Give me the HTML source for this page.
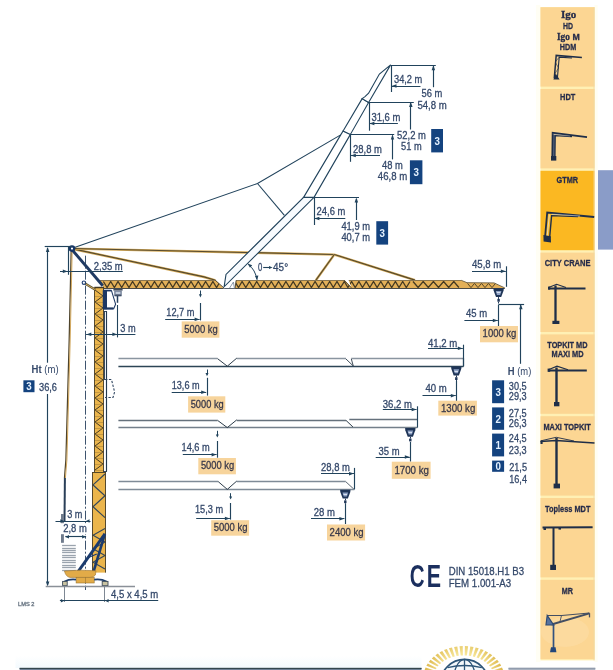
<!DOCTYPE html>
<html lang="fr"><head><meta charset="utf-8"><title>GTMR</title>
<style>html,body{margin:0;padding:0;background:#fff}svg{display:block;will-change:transform;opacity:0.9999}</style></head>
<body>
<svg width="613" height="670" viewBox="0 0 613 670" font-family="'Liberation Sans', sans-serif">
<g opacity="0.999">
<defs><linearGradient id="bg" x1="0" y1="0" x2="0" y2="1"><stop offset="0" stop-color="#ffffff"/><stop offset="1" stop-color="#f3fafe"/></linearGradient></defs>
<rect x="0" y="0" width="613.0" height="670.0" fill="#ffffff" />
<rect x="536" y="5" width="4.5" height="657.0" fill="#fffef4" />
<rect x="594.5" y="5" width="3.1" height="657.0" fill="#fffef2" />
<rect x="540.5" y="7.2" width="54.0" height="653.2" fill="#fff0b4" />
<rect x="540.5" y="7.2" width="54.0" height="79.4" fill="#fcd693" />
<rect x="540.5" y="89.0" width="54.0" height="79.4" fill="#fcd693" />
<rect x="540.5" y="170.79999999999998" width="54.0" height="79.4" fill="#fbb822" />
<rect x="540.5" y="252.6" width="54.0" height="79.4" fill="#fcd693" />
<rect x="540.5" y="334.4" width="54.0" height="79.4" fill="#fcd693" />
<rect x="540.5" y="416.2" width="54.0" height="79.4" fill="#fcd693" />
<rect x="540.5" y="498.0" width="54.0" height="79.4" fill="#fcd693" />
<rect x="540.5" y="579.8000000000001" width="54.0" height="79.4" fill="#fcd693" />
<rect x="593.6" y="7.2" width="0.9" height="653.2" fill="#f0d9a4" />
<rect x="598" y="170.2" width="15.0" height="79.4" fill="#8a9cc8" />
<text x="561" y="17.7" font-size="10" font-weight="bold" fill="#262c4a"  textLength="15.2" lengthAdjust="spacingAndGlyphs" stroke="#262c4a" stroke-width="0.3" font-family="'Liberation Serif', serif">Igo</text>
<text x="563" y="28.6" font-size="9.8" font-weight="bold" fill="#262c4a"  textLength="10.0" lengthAdjust="spacingAndGlyphs" stroke="#262c4a" stroke-width="0.3" >HD</text>
<text x="557" y="39.5" font-size="10" font-weight="bold" fill="#262c4a" stroke="#262c4a" stroke-width="0.3" textLength="22.8" lengthAdjust="spacingAndGlyphs"><tspan font-family="'Liberation Serif', serif">Igo</tspan> <tspan font-size="9.4">M</tspan></text>
<text x="559.8" y="49.8" font-size="9.8" font-weight="bold" fill="#262c4a"  textLength="16.4" lengthAdjust="spacingAndGlyphs" stroke="#262c4a" stroke-width="0.3" >HDM</text>
<polyline points="554.3,78.0 556.2,55.4 581.9,57.4" fill="none" stroke="#1f2e48" stroke-width="1.5" />
<polyline points="557.4,78.0 559.2,57.2 572.0,58.0" fill="none" stroke="#1f2e48" stroke-width="1.1" />
<polyline points="554.6,74.0 558.6,68.0 555.2,62.0 559.0,57.4" fill="none" stroke="#1f2e48" stroke-width="0.6" />
<polygon points="553.4,79.4 555.6,73.4 559.6,79.4" fill="#1f2e48" stroke="none" stroke-width="1" />
<text x="560.1" y="100.3" font-size="9.8" font-weight="bold" fill="#262c4a"  textLength="15.2" lengthAdjust="spacingAndGlyphs" stroke="#262c4a" stroke-width="0.3" >HDT</text>
<polygon points="552.2,160.0 552.6,133.5 555.2,135.6 554.9,160.0" fill="#56637c" stroke="none" stroke-width="1" />
<polyline points="552.2,160.0 552.6,132.8 587.0,137.2" fill="none" stroke="#1f2e48" stroke-width="1.7" />
<polyline points="554.9,160.0 555.2,135.6 572.0,136.6" fill="none" stroke="#1f2e48" stroke-width="1.3" />
<line x1="552.6" y1="134" x2="570" y2="136.2" stroke="#8c9bb0" stroke-width="0.5" />
<rect x="551" y="156" width="5.3" height="4.6" fill="#1f2e48" />
<text x="556.6" y="182.6" font-size="9.8" font-weight="bold" fill="#262c4a"  textLength="21.5" lengthAdjust="spacingAndGlyphs" stroke="#262c4a" stroke-width="0.3" >GTMR</text>
<polyline points="544.8,240.0 547.2,212.6 594.2,217.0" fill="none" stroke="#1f2e48" stroke-width="1.8" />
<polyline points="549.6,238.0 551.6,215.6 578.0,216.6" fill="none" stroke="#1f2e48" stroke-width="1.4" />
<polyline points="547.2,236.0 549.4,214.4" fill="none" stroke="#dfe6ee" stroke-width="0.7" />
<polyline points="551.6,214.2 580.0,216.0" fill="none" stroke="#dfe6ee" stroke-width="0.6" />
<polygon points="543.4,235.0 550.8,236.2 551.0,242.6 543.6,241.6" fill="#1f2e48" stroke="none" stroke-width="1" />
<text x="544.7" y="265.6" font-size="9.8" font-weight="bold" fill="#262c4a"  textLength="45.7" lengthAdjust="spacingAndGlyphs" stroke="#262c4a" stroke-width="0.3" >CITY CRANE</text>
<line x1="555.5" y1="285.5" x2="555.5" y2="322" stroke="#1f2e48" stroke-width="2.3" />
<line x1="548.3" y1="288.5" x2="585.5" y2="288.5" stroke="#1f2e48" stroke-width="2.0" />
<polyline points="548.6,287.6 556.6,284.3 566.0,287.6" fill="none" stroke="#1f2e48" stroke-width="1.1" />
<rect x="548" y="286.6" width="2.2" height="3.0" fill="#1f2e48" />
<rect x="552.4" y="320.8" width="7.0" height="3.2" fill="#1f2e48" />
<text x="547.3" y="347.6" font-size="9.8" font-weight="bold" fill="#262c4a"  textLength="40.2" lengthAdjust="spacingAndGlyphs" stroke="#262c4a" stroke-width="0.3" >TOPKIT MD</text>
<text x="551.5" y="356.6" font-size="9.8" font-weight="bold" fill="#262c4a"  textLength="32.1" lengthAdjust="spacingAndGlyphs" stroke="#262c4a" stroke-width="0.3" >MAXI MD</text>
<line x1="556.5" y1="367.5" x2="556.5" y2="404" stroke="#1f2e48" stroke-width="2.4" />
<line x1="548" y1="370.5" x2="586.8" y2="370.5" stroke="#1f2e48" stroke-width="1.9" />
<polyline points="548.4,369.8 557.0,366.2 568.0,369.8" fill="none" stroke="#1f2e48" stroke-width="1.2" />
<rect x="547.6" y="368.6" width="2.6" height="3.2" fill="#1f2e48" />
<rect x="554" y="402" width="5.4" height="4.3" fill="#1f2e48" />
<text x="543.4" y="429.9" font-size="9.8" font-weight="bold" fill="#262c4a"  textLength="47.5" lengthAdjust="spacingAndGlyphs" stroke="#262c4a" stroke-width="0.3" >MAXI TOPKIT</text>
<line x1="556.5" y1="438" x2="556.5" y2="488" stroke="#1f2e48" stroke-width="2.4" />
<polyline points="540.5,441.4 556.0,440.6 594.5,443.0" fill="none" stroke="#1f2e48" stroke-width="1.5" />
<polyline points="541.0,440.8 556.2,437.3 574.0,441.0" fill="none" stroke="#1f2e48" stroke-width="0.9" />
<rect x="540.5" y="440.6" width="2.1" height="3.4" fill="#1f2e48" />
<rect x="553.6" y="483.6" width="6.4" height="4.8" fill="#1f2e48" />
<text x="545.1" y="511.6" font-size="9.8" font-weight="bold" fill="#262c4a"  textLength="45.3" lengthAdjust="spacingAndGlyphs" stroke="#262c4a" stroke-width="0.3" >Topless MDT</text>
<line x1="553.5" y1="527.5" x2="553.5" y2="569" stroke="#1f2e48" stroke-width="2" />
<line x1="542.5" y1="527.6" x2="592.6" y2="527.2" stroke="#1f2e48" stroke-width="2" />
<rect x="550.2" y="564.8" width="5.8" height="5.2" fill="#1f2e48" />
<rect x="543.5" y="527.5" width="2.5" height="2.5" fill="#1f2e48" />
<rect x="558.5" y="527.5" width="2.5" height="2.1" fill="#1f2e48" />
<ellipse cx="565" cy="632" rx="24" ry="15" fill="#fde2b0" opacity="0.4"/>
<text x="561.8" y="593.9" font-size="9.8" font-weight="bold" fill="#262c4a"  textLength="11.2" lengthAdjust="spacingAndGlyphs" stroke="#262c4a" stroke-width="0.3" >MR</text>
<line x1="553.5" y1="624.5" x2="553.5" y2="651" stroke="#33527e" stroke-width="1.7" />
<polyline points="551.5,624.5 589.4,613.4" fill="none" stroke="#434e62" stroke-width="2.0" />
<polyline points="547.0,615.5 561.8,615.5 589.4,613.0" fill="none" stroke="#434e62" stroke-width="1.2" />
<polygon points="547.2,615.5 546.0,625.0 553.6,625.0" fill="#5673a0" stroke="#2f4a72" stroke-width="1.2" />
<line x1="561.5" y1="615.5" x2="560" y2="621.5" stroke="#434e62" stroke-width="0.9" />
<line x1="589.5" y1="613.2" x2="589.5" y2="617.4" stroke="#434e62" stroke-width="1.3" />
<polygon points="550.0,652.2 551.0,647.2 555.6,647.2 556.4,652.2" fill="#23467a" stroke="none" stroke-width="1" />
<line x1="118.4" y1="358.5" x2="217.6" y2="358.5" stroke="#8a95a0" stroke-width="1.6" />
<line x1="236.8" y1="358.5" x2="346" y2="358.5" stroke="#8a95a0" stroke-width="1.6" />
<line x1="351.2" y1="358.5" x2="463.4" y2="358.5" stroke="#8a95a0" stroke-width="1.6" />
<polyline points="345.9,358.9 353.3,366.0 351.3,358.9" fill="none" stroke="#2c3c4a" stroke-width="0.9" />
<line x1="118.4" y1="366.5" x2="463.4" y2="366.5" stroke="#2c4456" stroke-width="1.3" />
<polyline points="217.6,358.7 227.3,366.2 236.8,358.1" fill="none" stroke="#2c3c4a" stroke-width="1.0" />
<line x1="463.5" y1="358.2" x2="463.5" y2="366.6" stroke="#2c4456" stroke-width="1.2" />
<line x1="118.4" y1="420.5" x2="217.6" y2="420.5" stroke="#65717c" stroke-width="1.3" />
<line x1="236.8" y1="420.5" x2="346" y2="420.5" stroke="#65717c" stroke-width="1.3" />
<polyline points="346.0,420.4 353.6,427.6" fill="none" stroke="#2c3c4a" stroke-width="1.0" />
<line x1="349.3" y1="419.5" x2="417.4" y2="419.5" stroke="#65717c" stroke-width="1.3" />
<line x1="118.4" y1="427.5" x2="417.4" y2="427.5" stroke="#737f8a" stroke-width="1.3" />
<polyline points="217.6,420.4 227.3,427.6 236.8,419.8" fill="none" stroke="#2c3c4a" stroke-width="1.0" />
<line x1="118.4" y1="481.5" x2="218.2" y2="481.5" stroke="#7f8b97" stroke-width="1.3" />
<line x1="236.8" y1="481.5" x2="345.7" y2="481.5" stroke="#7f8b97" stroke-width="1.3" />
<polyline points="345.7,481.6 354.0,489.3" fill="none" stroke="#5a6672" stroke-width="1.0" />
<line x1="118.4" y1="489.5" x2="354.4" y2="489.5" stroke="#7f8b97" stroke-width="1.3" />
<polyline points="218.2,481.6 227.3,489.4 236.8,481.0" fill="none" stroke="#2c3c4a" stroke-width="1.0" />
<polygon points="451.1,366.6 461.5,366.6 461.3,368.8 458.9,375.4 453.7,375.4 451.3,368.8" fill="#1f3557" stroke="none" stroke-width="1" />
<polygon points="453.5,369.2 459.1,369.2 457.9,373.2 454.7,373.2" fill="#8fa2c6" stroke="none" stroke-width="1" />
<line x1="454.5" y1="371.5" x2="458.1" y2="371.5" stroke="#dfe6f2" stroke-width="0.9" />
<line x1="456.5" y1="375.40000000000003" x2="456.5" y2="377.20000000000005" stroke="#1f3557" stroke-width="1.0" />
<rect x="455.1" y="377.20000000000005" width="2.4" height="2.8" fill="#1f3557" />
<line x1="456.5" y1="380.0" x2="456.5" y2="381.5" stroke="#27405e" stroke-width="1.0" />
<polygon points="405.1,428.0 415.5,428.0 415.3,430.2 412.9,436.8 407.7,436.8 405.3,430.2" fill="#1f3557" stroke="none" stroke-width="1" />
<polygon points="407.5,430.6 413.1,430.6 411.9,434.6 408.7,434.6" fill="#8fa2c6" stroke="none" stroke-width="1" />
<line x1="408.5" y1="432.5" x2="412.1" y2="432.5" stroke="#dfe6f2" stroke-width="0.9" />
<line x1="410.5" y1="436.8" x2="410.5" y2="438.6" stroke="#1f3557" stroke-width="1.0" />
<rect x="409.1" y="438.6" width="2.4" height="2.8" fill="#1f3557" />
<line x1="410.5" y1="441.4" x2="410.5" y2="441.5" stroke="#27405e" stroke-width="1.0" />
<polygon points="340.1,489.8 350.5,489.8 350.3,492.0 347.9,498.6 342.7,498.6 340.3,492.0" fill="#1f3557" stroke="none" stroke-width="1" />
<polygon points="342.5,492.4 348.1,492.4 346.9,496.4 343.7,496.4" fill="#8fa2c6" stroke="none" stroke-width="1" />
<line x1="343.5" y1="494.5" x2="347.1" y2="494.5" stroke="#dfe6f2" stroke-width="0.9" />
<line x1="345.5" y1="498.6" x2="345.5" y2="500.40000000000003" stroke="#1f3557" stroke-width="1.0" />
<rect x="344.1" y="500.40000000000003" width="2.4" height="2.8" fill="#1f3557" />
<line x1="345.5" y1="503.2" x2="345.5" y2="504.3" stroke="#27405e" stroke-width="1.0" />
<text x="472" y="267.9" font-size="11.2" font-weight="normal" fill="#34486a" stroke="#34486a" stroke-width="0.3" textLength="29.3" lengthAdjust="spacingAndGlyphs" >45,8 m</text>
<line x1="472" y1="271.5" x2="505.8" y2="271.5" stroke="#21435c" stroke-width="1" />
<polygon points="505.8,271.2 500.8,269.4 500.8,272.9" fill="#21435c" stroke="none" stroke-width="1" />
<line x1="506.5" y1="266.3" x2="506.5" y2="286.8" stroke="#21435c" stroke-width="1.15" />
<text x="466" y="317.1" font-size="11.2" font-weight="normal" fill="#34486a" stroke="#34486a" stroke-width="0.3" textLength="21.1" lengthAdjust="spacingAndGlyphs" >45 m</text>
<line x1="464.4" y1="320.5" x2="497.8" y2="320.5" stroke="#21435c" stroke-width="1" />
<polygon points="497.8,320.5 492.8,318.8 492.8,322.2" fill="#21435c" stroke="none" stroke-width="1" />
<line x1="498.5" y1="305" x2="498.5" y2="326" stroke="#21435c" stroke-width="1.15" />
<rect x="480" y="326" width="38.0" height="16.3" fill="#f7d49c" />
<text x="482.6" y="336.6" font-size="11" font-weight="normal" fill="#38384a" stroke="#38384a" stroke-width="0.3" textLength="33.8" lengthAdjust="spacingAndGlyphs" >1000 kg</text>
<line x1="498.4" y1="304.5" x2="524.1" y2="304.5" stroke="#21435c" stroke-width="1.15" />
<line x1="520.5" y1="304.5" x2="520.5" y2="363.8" stroke="#21435c" stroke-width="1.15" />
<polygon points="520.9,304.2 519.1,309.2 522.6,309.2" fill="#21435c" stroke="none" stroke-width="1" />
<text x="428" y="347.1" font-size="11.2" font-weight="normal" fill="#34486a" stroke="#34486a" stroke-width="0.3" textLength="29.3" lengthAdjust="spacingAndGlyphs" >41,2 m</text>
<line x1="428" y1="348.5" x2="462.8" y2="348.5" stroke="#21435c" stroke-width="1" />
<polygon points="462.8,348.4 457.8,346.6 457.8,350.1" fill="#21435c" stroke="none" stroke-width="1" />
<line x1="463.5" y1="344.7" x2="463.5" y2="366.2" stroke="#21435c" stroke-width="1.15" />
<text x="425.5" y="392.3" font-size="11.2" font-weight="normal" fill="#34486a" stroke="#34486a" stroke-width="0.3" textLength="21.3" lengthAdjust="spacingAndGlyphs" >40 m</text>
<line x1="422.5" y1="395.5" x2="455.8" y2="395.5" stroke="#21435c" stroke-width="1" />
<polygon points="455.8,395.6 450.8,393.9 450.8,397.4" fill="#21435c" stroke="none" stroke-width="1" />
<line x1="456.5" y1="381" x2="456.5" y2="401" stroke="#21435c" stroke-width="1.15" />
<rect x="438.3" y="400.7" width="38.6" height="14.9" fill="#f7d49c" />
<text x="440.90000000000003" y="412.2" font-size="11" font-weight="normal" fill="#38384a" stroke="#38384a" stroke-width="0.3" textLength="34.4" lengthAdjust="spacingAndGlyphs" >1300 kg</text>
<text x="382.8" y="407.5" font-size="11.2" font-weight="normal" fill="#34486a" stroke="#34486a" stroke-width="0.3" textLength="29.2" lengthAdjust="spacingAndGlyphs" >36,2 m</text>
<line x1="382.8" y1="409.5" x2="416.6" y2="409.5" stroke="#21435c" stroke-width="1" />
<polygon points="416.6,409.5 411.6,407.8 411.6,411.2" fill="#21435c" stroke="none" stroke-width="1" />
<line x1="417.5" y1="406.3" x2="417.5" y2="427.6" stroke="#21435c" stroke-width="1.15" />
<text x="378.6" y="454.5" font-size="11.2" font-weight="normal" fill="#34486a" stroke="#34486a" stroke-width="0.3" textLength="21.0" lengthAdjust="spacingAndGlyphs" >35 m</text>
<line x1="375.7" y1="457.5" x2="409.8" y2="457.5" stroke="#21435c" stroke-width="1" />
<polygon points="409.8,457.0 404.8,455.2 404.8,458.8" fill="#21435c" stroke="none" stroke-width="1" />
<line x1="410.5" y1="442" x2="410.5" y2="461.6" stroke="#21435c" stroke-width="1.15" />
<rect x="391.8" y="461.7" width="38.8" height="17.1" fill="#f7d49c" />
<text x="394.40000000000003" y="473.6" font-size="11" font-weight="normal" fill="#38384a" stroke="#38384a" stroke-width="0.3" textLength="34.6" lengthAdjust="spacingAndGlyphs" >1700 kg</text>
<text x="321" y="470.5" font-size="11.2" font-weight="normal" fill="#34486a" stroke="#34486a" stroke-width="0.3" textLength="28.9" lengthAdjust="spacingAndGlyphs" >28,8 m</text>
<line x1="321" y1="473.5" x2="354" y2="473.5" stroke="#21435c" stroke-width="1" />
<polygon points="354.0,473.6 349.0,471.9 349.0,475.4" fill="#21435c" stroke="none" stroke-width="1" />
<line x1="354.5" y1="467.9" x2="354.5" y2="489.4" stroke="#21435c" stroke-width="1.15" />
<text x="313.7" y="515.8" font-size="11.2" font-weight="normal" fill="#34486a" stroke="#34486a" stroke-width="0.3" textLength="21.2" lengthAdjust="spacingAndGlyphs" >28 m</text>
<line x1="311" y1="518.5" x2="344.4" y2="518.5" stroke="#21435c" stroke-width="1" />
<polygon points="344.4,518.8 339.4,517.0 339.4,520.5" fill="#21435c" stroke="none" stroke-width="1" />
<line x1="345.5" y1="504" x2="345.5" y2="524" stroke="#21435c" stroke-width="1.15" />
<rect x="327" y="524.5" width="38.1" height="16.0" fill="#f7d49c" />
<text x="329.6" y="535.5" font-size="11" font-weight="normal" fill="#38384a" stroke="#38384a" stroke-width="0.3" textLength="33.9" lengthAdjust="spacingAndGlyphs" >2400 kg</text>
<line x1="200.5" y1="290.5" x2="200.5" y2="295.9" stroke="#21435c" stroke-width="1.0" />
<polygon points="200.4,297.4 198.9,294.2 201.9,294.2" fill="#21435c" stroke="none" stroke-width="1" />
<line x1="200.5" y1="303" x2="200.5" y2="320.4" stroke="#21435c" stroke-width="1.15" />
<text x="166.3" y="316.1" font-size="11.2" font-weight="normal" fill="#34486a" stroke="#34486a" stroke-width="0.3" textLength="28.2" lengthAdjust="spacingAndGlyphs" >12,7 m</text>
<line x1="165.2" y1="319.5" x2="199.6" y2="319.5" stroke="#21435c" stroke-width="1" />
<polygon points="199.6,319.4 194.6,317.6 194.6,321.1" fill="#21435c" stroke="none" stroke-width="1" />
<rect x="181.7" y="321.4" width="37.7" height="16.3" fill="#f7d49c" />
<text x="184.29999999999998" y="332.5" font-size="11" font-weight="normal" fill="#38384a" stroke="#38384a" stroke-width="0.3" textLength="33.5" lengthAdjust="spacingAndGlyphs" >5000 kg</text>
<line x1="207.5" y1="369.5" x2="207.5" y2="374.7" stroke="#21435c" stroke-width="1.0" />
<polygon points="207.0,376.2 205.5,373.0 208.5,373.0" fill="#21435c" stroke="none" stroke-width="1" />
<line x1="207.5" y1="377.8" x2="207.5" y2="395.6" stroke="#21435c" stroke-width="1.15" />
<text x="171.7" y="388.7" font-size="11.2" font-weight="normal" fill="#34486a" stroke="#34486a" stroke-width="0.3" textLength="27.9" lengthAdjust="spacingAndGlyphs" >13,6 m</text>
<line x1="171.7" y1="392.5" x2="206.2" y2="392.5" stroke="#21435c" stroke-width="1" />
<polygon points="206.2,392.3 201.2,390.6 201.2,394.1" fill="#21435c" stroke="none" stroke-width="1" />
<rect x="188.1" y="396.3" width="37.2" height="16.3" fill="#f7d49c" />
<text x="190.7" y="408.1" font-size="11" font-weight="normal" fill="#38384a" stroke="#38384a" stroke-width="0.3" textLength="33.0" lengthAdjust="spacingAndGlyphs" >5000 kg</text>
<line x1="217.5" y1="430.8" x2="217.5" y2="436.1" stroke="#21435c" stroke-width="1.0" />
<polygon points="217.3,437.6 215.8,434.4 218.8,434.4" fill="#21435c" stroke="none" stroke-width="1" />
<line x1="217.5" y1="441" x2="217.5" y2="457.7" stroke="#21435c" stroke-width="1.15" />
<text x="181.5" y="450.7" font-size="11.2" font-weight="normal" fill="#34486a" stroke="#34486a" stroke-width="0.3" textLength="28.3" lengthAdjust="spacingAndGlyphs" >14,6 m</text>
<line x1="182.8" y1="454.5" x2="216.6" y2="454.5" stroke="#21435c" stroke-width="1" />
<polygon points="216.6,454.6 211.6,452.9 211.6,456.4" fill="#21435c" stroke="none" stroke-width="1" />
<rect x="198.3" y="458" width="37.6" height="16.3" fill="#f7d49c" />
<text x="200.9" y="469.4" font-size="11" font-weight="normal" fill="#38384a" stroke="#38384a" stroke-width="0.3" textLength="33.4" lengthAdjust="spacingAndGlyphs" >5000 kg</text>
<line x1="230.5" y1="493.2" x2="230.5" y2="498.1" stroke="#21435c" stroke-width="1.0" />
<polygon points="230.6,499.6 229.1,496.4 232.1,496.4" fill="#21435c" stroke="none" stroke-width="1" />
<line x1="230.5" y1="503" x2="230.5" y2="519.6" stroke="#21435c" stroke-width="1.15" />
<text x="194.9" y="512.5" font-size="11.2" font-weight="normal" fill="#34486a" stroke="#34486a" stroke-width="0.3" textLength="28.2" lengthAdjust="spacingAndGlyphs" >15,3 m</text>
<line x1="196.2" y1="518.5" x2="229.9" y2="518.5" stroke="#21435c" stroke-width="1" />
<polygon points="229.9,518.5 224.9,516.8 224.9,520.2" fill="#21435c" stroke="none" stroke-width="1" />
<rect x="211.2" y="520.2" width="37.9" height="15.5" fill="#f7d49c" />
<text x="213.79999999999998" y="530.8" font-size="11" font-weight="normal" fill="#38384a" stroke="#38384a" stroke-width="0.3" textLength="33.7" lengthAdjust="spacingAndGlyphs" >5000 kg</text>
<text x="507.8" y="374.8" font-size="11.6" fill="#34486a" textLength="23.5" lengthAdjust="spacingAndGlyphs"><tspan font-weight="bold">H</tspan> (m)</text>
<rect x="492.1" y="380.3" width="12.0" height="22.9" fill="#14437f" />
<text transform="translate(498.1,395.85) scale(0.85,1)" text-anchor="middle" font-size="11.5" font-weight="bold" fill="#e4f1ff" >3</text>
<text x="508.8" y="389.8" font-size="11.2" font-weight="normal" fill="#34486a" stroke="#34486a" stroke-width="0.3" textLength="17.8" lengthAdjust="spacingAndGlyphs" >30,5</text>
<text x="508.8" y="400.3" font-size="11.2" font-weight="normal" fill="#34486a" stroke="#34486a" stroke-width="0.3" textLength="17.8" lengthAdjust="spacingAndGlyphs" >29,3</text>
<rect x="492.1" y="407.4" width="12.0" height="22.4" fill="#14437f" />
<text transform="translate(498.1,422.70000000000005) scale(0.85,1)" text-anchor="middle" font-size="11.5" font-weight="bold" fill="#e4f1ff" >2</text>
<text x="508.8" y="416.7" font-size="11.2" font-weight="normal" fill="#34486a" stroke="#34486a" stroke-width="0.3" textLength="17.8" lengthAdjust="spacingAndGlyphs" >27,5</text>
<text x="508.8" y="427.2" font-size="11.2" font-weight="normal" fill="#34486a" stroke="#34486a" stroke-width="0.3" textLength="17.8" lengthAdjust="spacingAndGlyphs" >26,3</text>
<rect x="492.1" y="433.6" width="12.0" height="22.8" fill="#14437f" />
<text transform="translate(498.1,449.1) scale(0.85,1)" text-anchor="middle" font-size="11.5" font-weight="bold" fill="#e4f1ff" >1</text>
<text x="508.8" y="442.1" font-size="11.2" font-weight="normal" fill="#34486a" stroke="#34486a" stroke-width="0.3" textLength="17.8" lengthAdjust="spacingAndGlyphs" >24,5</text>
<text x="508.8" y="453.5" font-size="11.2" font-weight="normal" fill="#34486a" stroke="#34486a" stroke-width="0.3" textLength="17.8" lengthAdjust="spacingAndGlyphs" >23,3</text>
<rect x="492.1" y="460.6" width="12.0" height="11.2" fill="#14437f" />
<text transform="translate(498.1,470.30000000000007) scale(0.85,1)" text-anchor="middle" font-size="11.5" font-weight="bold" fill="#e4f1ff" >0</text>
<text x="509.2" y="470.7" font-size="11.2" font-weight="normal" fill="#34486a" stroke="#34486a" stroke-width="0.3" textLength="17.8" lengthAdjust="spacingAndGlyphs" >21,5</text>
<text x="509.2" y="482.9" font-size="11.2" font-weight="normal" fill="#34486a" stroke="#34486a" stroke-width="0.3" textLength="17.8" lengthAdjust="spacingAndGlyphs" >16,4</text>
<text transform="translate(409.7,586.7) scale(0.67,1)" font-size="30.6" font-weight="bold" fill="#1b2f5e">C</text>
<text transform="translate(426.7,586.7) scale(0.70,1)" font-size="30.6" font-weight="bold" fill="#1b2f5e">E</text>
<text x="448.7" y="574.8" font-size="11.8" font-weight="normal" fill="#34486a" stroke="#34486a" stroke-width="0.3" textLength="75.4" lengthAdjust="spacingAndGlyphs" >DIN 15018.H1 B3</text>
<text x="448.7" y="587.0" font-size="11.8" font-weight="normal" fill="#34486a" stroke="#34486a" stroke-width="0.3" textLength="62.4" lengthAdjust="spacingAndGlyphs" >FEM 1.001-A3</text>
<polyline points="73.0,249.0 204.0,277.0 215.5,280.3" fill="none" stroke="#d9ae5c" stroke-width="2.4" />
<polyline points="73.0,248.9 204.0,276.9 215.5,280.2" fill="none" stroke="#554a2e" stroke-width="1.15" />
<polyline points="73.0,248.6 334.3,254.6 415.0,280.2" fill="none" stroke="#d9ae5c" stroke-width="2.4" />
<polyline points="73.0,248.5 334.3,254.5 415.0,280.1" fill="none" stroke="#554a2e" stroke-width="1.15" />
<polyline points="334.3,254.6 315.9,280.2" fill="none" stroke="#d9ae5c" stroke-width="2.4" />
<polyline points="334.3,254.5 315.9,280.1" fill="none" stroke="#554a2e" stroke-width="1.15" />
<polygon points="99.6,280.3 461.2,280.3 467.0,282.7 494.0,282.9 504.8,287.9 504.8,288.2 104.2,288.2" fill="#e3b058" stroke="none" stroke-width="1" />
<polyline points="103.4,281.5 107.1,287.5 110.7,281.5 114.4,287.5 118.0,281.5 121.7,287.5 125.3,281.5 129.0,287.5 132.6,281.5 136.3,287.5 139.9,281.5 143.6,287.5 147.2,281.5 150.9,287.5 154.5,281.5 158.2,287.5 161.8,281.5 165.5,287.5 169.1,281.5 172.8,287.5 176.4,281.5 180.1,287.5 183.7,281.5 187.4,287.5 191.0,281.5 194.7,287.5 198.3,281.5 202.0,287.5 205.6,281.5 209.3,287.5 212.9,281.5 216.6,287.5 220.2,281.5 223.9,287.5 227.5,281.5 231.2,287.5 234.8,281.5 238.5,287.5 242.1,281.5 245.8,287.5 249.4,281.5 253.1,287.5 256.7,281.5 260.4,287.5 264.0,281.5 267.7,287.5 271.3,281.5 275.0,287.5 278.6,281.5 282.3,287.5 285.9,281.5 289.6,287.5 293.2,281.5 296.8,287.5 300.5,281.5 304.1,287.5 307.8,281.5 311.4,287.5 315.1,281.5 318.7,287.5 322.4,281.5 326.0,287.5 329.7,281.5 333.3,287.5 337.0,281.5 340.6,287.5 344.3,281.5 347.9,287.5 351.6,281.5 355.2,287.5 358.9,281.5 362.5,287.5 366.2,281.5 369.8,287.5 373.5,281.5 377.1,287.5 380.8,281.5 384.4,287.5 388.1,281.5 391.7,287.5 395.4,281.5 399.0,287.5 402.7,281.5 406.3,287.5 410.0,281.5" fill="none" stroke="#453a22" stroke-width="1.3" />
<polyline points="413.0,281.5 418.1,287.5 423.2,281.5 428.3,287.5 433.4,281.5 438.5,287.5 443.6,281.5 448.7,287.5 453.8,281.5 458.9,287.5" fill="none" stroke="#453a22" stroke-width="1.3" />
<polyline points="467.5,283.4 471.0,287.6 474.5,283.4 478.0,287.6 481.5,283.4 485.0,287.6 488.5,283.4 492.0,287.6 495.5,283.4" fill="none" stroke="#453a22" stroke-width="0.9" />
<line x1="99.6" y1="280.5" x2="461.2" y2="280.5" stroke="#8a7650" stroke-width="1.0" />
<line x1="104" y1="288.5" x2="504.8" y2="288.5" stroke="#4a4a45" stroke-width="1.2" />
<polyline points="461.2,280.3 467.0,282.7 494.0,282.9 504.8,287.9" fill="none" stroke="#6a5c40" stroke-width="0.9" />
<polygon points="215.3,279.7 236.2,279.7 235.0,288.9 224.2,288.9" fill="#ffffff" stroke="none" stroke-width="1" />
<polyline points="215.3,280.3 224.2,288.2" fill="none" stroke="#453a22" stroke-width="0.9" />
<polyline points="236.2,280.3 235.0,288.2" fill="none" stroke="#453a22" stroke-width="0.9" />
<polyline points="229.5,288.2 233.4,282.0 234.4,288.2" fill="none" stroke="#7d8da0" stroke-width="0.9" />
<line x1="224.2" y1="288.5" x2="235" y2="288.5" stroke="#5a6470" stroke-width="1.0" />
<polygon points="344.4,279.7 348.4,279.7 351.6,287.8" fill="#ffffff" stroke="none" stroke-width="1" />
<line x1="344.2" y1="280.3" x2="351.4" y2="287.8" stroke="#453a22" stroke-width="0.9" />
<polygon points="493.4,288.3 503.8,288.3 503.6,290.5 501.2,297.1 496.0,297.1 493.6,290.5" fill="#1f3557" stroke="none" stroke-width="1" />
<polygon points="495.8,290.9 501.4,290.9 500.2,294.9 497.0,294.9" fill="#8fa2c6" stroke="none" stroke-width="1" />
<line x1="496.8" y1="292.5" x2="500.40000000000003" y2="292.5" stroke="#dfe6f2" stroke-width="0.9" />
<line x1="498.5" y1="297.1" x2="498.5" y2="298.90000000000003" stroke="#1f3557" stroke-width="1.0" />
<rect x="497.40000000000003" y="298.90000000000003" width="2.4" height="2.8" fill="#1f3557" />
<line x1="498.5" y1="301.7" x2="498.5" y2="303.5" stroke="#27405e" stroke-width="1.0" />
<polygon points="224.1,286.8 226.0,274.4 303.6,197.4 314.0,197.4" fill="#f8fbfe" stroke="#21435c" stroke-width="1.1" />
<polygon points="303.6,197.4 340.7,134.9 343.1,131.0 350.4,134.4 314.0,197.4" fill="#ffffff" stroke="#21435c" stroke-width="1.1" />
<polygon points="343.1,131.0 362.2,98.6 368.6,102.5 350.4,134.4" fill="#ffffff" stroke="#21435c" stroke-width="1.1" />
<polygon points="362.2,98.6 365.0,96.6 368.6,93.2 379.4,74.1 390.6,64.9 368.6,102.5" fill="#ffffff" stroke="#21435c" stroke-width="1.1" />
<polyline points="73.0,248.0 257.5,183.5 340.7,134.9" fill="none" stroke="#21435c" stroke-width="1.1" />
<line x1="257.5" y1="183.5" x2="284.4" y2="215.3" stroke="#21435c" stroke-width="1.1" />
<path d="M248.3,264.3 Q255.5,270 256.9,279.6" fill="none" stroke="#21435c" stroke-width="1"/>
<polygon points="248.0,264.0 248.1,262.2 248.1,265.8" fill="#21435c" stroke="none" stroke-width="1" />
<polygon points="247.6,263.6 252.2,265.2 250.0,267.8" fill="#21435c" stroke="none" stroke-width="1" />
<polygon points="257.2,280.2 255.0,276.0 258.4,275.6" fill="#21435c" stroke="none" stroke-width="1" />
<text x="258.1" y="270.6" font-size="11.2" font-weight="normal" fill="#34486a" stroke="#34486a" stroke-width="0.3" textLength="4.3" lengthAdjust="spacingAndGlyphs" >0</text>
<text x="273.1" y="270.6" font-size="11.2" font-weight="normal" fill="#34486a" stroke="#34486a" stroke-width="0.3" textLength="15.0" lengthAdjust="spacingAndGlyphs" >45°</text>
<line x1="263.2" y1="267.5" x2="270" y2="267.5" stroke="#21435c" stroke-width="1.1" />
<polygon points="272.6,267.5 269.0,266.0 269.0,269.0" fill="#21435c" stroke="none" stroke-width="1" />
<line x1="390.5" y1="65.5" x2="435.8" y2="65.5" stroke="#21435c" stroke-width="1.15" />
<line x1="391.5" y1="65.2" x2="391.5" y2="92" stroke="#21435c" stroke-width="1.15" />
<text x="394" y="82.6" font-size="11.2" font-weight="normal" fill="#34486a" stroke="#34486a" stroke-width="0.3" textLength="28.3" lengthAdjust="spacingAndGlyphs" >34,2 m</text>
<line x1="391.5" y1="86.5" x2="420.5" y2="86.5" stroke="#21435c" stroke-width="1" />
<polygon points="391.5,86.0 396.5,84.2 396.5,87.8" fill="#21435c" stroke="none" stroke-width="1" />
<line x1="433.5" y1="87.2" x2="433.5" y2="66" stroke="#21435c" stroke-width="1.15" />
<polygon points="433.4,65.2 431.6,70.2 435.1,70.2" fill="#21435c" stroke="none" stroke-width="1" />
<text x="421.6" y="97.0" font-size="11.2" font-weight="normal" fill="#34486a" stroke="#34486a" stroke-width="0.3" textLength="20.8" lengthAdjust="spacingAndGlyphs" >56 m</text>
<text x="417.4" y="109.2" font-size="11.2" font-weight="normal" fill="#34486a" stroke="#34486a" stroke-width="0.3" textLength="29.4" lengthAdjust="spacingAndGlyphs" >54,8 m</text>
<line x1="368.5" y1="102.5" x2="413.8" y2="102.5" stroke="#21435c" stroke-width="1.15" />
<line x1="369.5" y1="102.1" x2="369.5" y2="130.7" stroke="#21435c" stroke-width="1.15" />
<text x="371.4" y="120.8" font-size="11.2" font-weight="normal" fill="#34486a" stroke="#34486a" stroke-width="0.3" textLength="28.9" lengthAdjust="spacingAndGlyphs" >31,6 m</text>
<line x1="369.4" y1="123.5" x2="397.9" y2="123.5" stroke="#21435c" stroke-width="1" />
<polygon points="369.4,123.5 374.4,121.8 374.4,125.2" fill="#21435c" stroke="none" stroke-width="1" />
<line x1="410.5" y1="129.5" x2="410.5" y2="103" stroke="#21435c" stroke-width="1.15" />
<polygon points="410.8,102.1 409.1,107.1 412.6,107.1" fill="#21435c" stroke="none" stroke-width="1" />
<text x="397.1" y="138.5" font-size="11.2" font-weight="normal" fill="#34486a" stroke="#34486a" stroke-width="0.3" textLength="28.9" lengthAdjust="spacingAndGlyphs" >52,2 m</text>
<text x="401" y="149.5" font-size="11.2" font-weight="normal" fill="#34486a" stroke="#34486a" stroke-width="0.3" textLength="20.6" lengthAdjust="spacingAndGlyphs" >51 m</text>
<rect x="431.2" y="129" width="11.8" height="23.4" fill="#14437f" />
<text transform="translate(437.1,144.79999999999998) scale(0.85,1)" text-anchor="middle" font-size="11.5" font-weight="bold" fill="#e4f1ff" >3</text>
<line x1="350.2" y1="134.5" x2="394.2" y2="134.5" stroke="#21435c" stroke-width="1.15" />
<line x1="350.5" y1="134.4" x2="350.5" y2="161.8" stroke="#21435c" stroke-width="1.15" />
<text x="353.1" y="152.5" font-size="11.2" font-weight="normal" fill="#34486a" stroke="#34486a" stroke-width="0.3" textLength="28.9" lengthAdjust="spacingAndGlyphs" >28,8 m</text>
<line x1="350.8" y1="155.5" x2="380" y2="155.5" stroke="#21435c" stroke-width="1" />
<polygon points="350.8,155.5 355.8,153.8 355.8,157.2" fill="#21435c" stroke="none" stroke-width="1" />
<line x1="392.5" y1="159.4" x2="392.5" y2="135.5" stroke="#21435c" stroke-width="1.15" />
<polygon points="392.5,134.4 390.8,139.4 394.2,139.4" fill="#21435c" stroke="none" stroke-width="1" />
<text x="382" y="169.4" font-size="11.2" font-weight="normal" fill="#34486a" stroke="#34486a" stroke-width="0.3" textLength="20.8" lengthAdjust="spacingAndGlyphs" >48 m</text>
<text x="377.8" y="180.1" font-size="11.2" font-weight="normal" fill="#34486a" stroke="#34486a" stroke-width="0.3" textLength="29.4" lengthAdjust="spacingAndGlyphs" >46,8 m</text>
<rect x="409.9" y="160.3" width="12.5" height="23.9" fill="#14437f" />
<text transform="translate(416.15,176.35) scale(0.85,1)" text-anchor="middle" font-size="11.5" font-weight="bold" fill="#e4f1ff" >3</text>
<line x1="304.4" y1="197.5" x2="359" y2="197.5" stroke="#21435c" stroke-width="1.15" />
<line x1="314.5" y1="197.5" x2="314.5" y2="225" stroke="#21435c" stroke-width="1.15" />
<text x="316.6" y="214.9" font-size="11.2" font-weight="normal" fill="#34486a" stroke="#34486a" stroke-width="0.3" textLength="28.7" lengthAdjust="spacingAndGlyphs" >24,6 m</text>
<line x1="314.4" y1="218.5" x2="345.3" y2="218.5" stroke="#21435c" stroke-width="1" />
<polygon points="314.4,218.5 319.4,216.8 319.4,220.2" fill="#21435c" stroke="none" stroke-width="1" />
<line x1="356.5" y1="220" x2="356.5" y2="199" stroke="#21435c" stroke-width="1.15" />
<polygon points="356.3,197.4 354.6,202.4 358.1,202.4" fill="#21435c" stroke="none" stroke-width="1" />
<text x="341.4" y="230.3" font-size="11.2" font-weight="normal" fill="#34486a" stroke="#34486a" stroke-width="0.3" textLength="28.6" lengthAdjust="spacingAndGlyphs" >41,9 m</text>
<text x="341.4" y="241" font-size="11.2" font-weight="normal" fill="#34486a" stroke="#34486a" stroke-width="0.3" textLength="28.6" lengthAdjust="spacingAndGlyphs" >40,7 m</text>
<rect x="376.3" y="221.2" width="11.8" height="23.4" fill="#14437f" />
<text transform="translate(382.20000000000005,236.99999999999997) scale(0.85,1)" text-anchor="middle" font-size="11.5" font-weight="bold" fill="#e4f1ff" >3</text>
<polyline points="71.2,250.0 69.2,340.0 65.9,460.0 64.5,478.0" fill="none" stroke="#4e442c" stroke-width="1.3" />
<polyline points="72.2,250.0 70.2,340.0 66.9,460.0 65.4,478.0" fill="none" stroke="#d2a85e" stroke-width="1.0" />
<line x1="64.9" y1="478" x2="64.5" y2="521" stroke="#2a3f58" stroke-width="2.0" />
<rect x="61" y="514" width="2.9" height="28.8" fill="#6f7b8c" />
<rect x="94.4" y="287.5" width="9.1" height="184.5" fill="#ebb54c" />
<polyline points="95.0,290.0 103.0,296.0 95.0,302.0 103.0,308.0 95.0,314.0 103.0,320.0 95.0,326.0 103.0,332.0 95.0,338.0 103.0,344.0 95.0,350.0 103.0,356.0 95.0,362.0 103.0,368.0 95.0,374.0 103.0,380.0 95.0,386.0 103.0,392.0 95.0,398.0 103.0,404.0 95.0,410.0 103.0,416.0 95.0,422.0 103.0,428.0 95.0,434.0 103.0,440.0 95.0,446.0 103.0,452.0 95.0,458.0 103.0,464.0 95.0,470.0" fill="none" stroke="#453a22" stroke-width="1.0" />
<line x1="94.6" y1="296.5" x2="103.4" y2="296.5" stroke="#9a7a3a" stroke-width="0.5" />
<line x1="94.6" y1="302.5" x2="103.4" y2="302.5" stroke="#9a7a3a" stroke-width="0.5" />
<line x1="94.6" y1="308.5" x2="103.4" y2="308.5" stroke="#9a7a3a" stroke-width="0.5" />
<line x1="94.6" y1="314.5" x2="103.4" y2="314.5" stroke="#9a7a3a" stroke-width="0.5" />
<line x1="94.6" y1="320.5" x2="103.4" y2="320.5" stroke="#9a7a3a" stroke-width="0.5" />
<line x1="94.6" y1="326.5" x2="103.4" y2="326.5" stroke="#9a7a3a" stroke-width="0.5" />
<line x1="94.6" y1="332.5" x2="103.4" y2="332.5" stroke="#9a7a3a" stroke-width="0.5" />
<line x1="94.6" y1="338.5" x2="103.4" y2="338.5" stroke="#9a7a3a" stroke-width="0.5" />
<line x1="94.6" y1="344.5" x2="103.4" y2="344.5" stroke="#9a7a3a" stroke-width="0.5" />
<line x1="94.6" y1="350.5" x2="103.4" y2="350.5" stroke="#9a7a3a" stroke-width="0.5" />
<line x1="94.6" y1="356.5" x2="103.4" y2="356.5" stroke="#9a7a3a" stroke-width="0.5" />
<line x1="94.6" y1="362.5" x2="103.4" y2="362.5" stroke="#9a7a3a" stroke-width="0.5" />
<line x1="94.6" y1="368.5" x2="103.4" y2="368.5" stroke="#9a7a3a" stroke-width="0.5" />
<line x1="94.6" y1="374.5" x2="103.4" y2="374.5" stroke="#9a7a3a" stroke-width="0.5" />
<line x1="94.6" y1="380.5" x2="103.4" y2="380.5" stroke="#9a7a3a" stroke-width="0.5" />
<line x1="94.6" y1="386.5" x2="103.4" y2="386.5" stroke="#9a7a3a" stroke-width="0.5" />
<line x1="94.6" y1="392.5" x2="103.4" y2="392.5" stroke="#9a7a3a" stroke-width="0.5" />
<line x1="94.6" y1="398.5" x2="103.4" y2="398.5" stroke="#9a7a3a" stroke-width="0.5" />
<line x1="94.6" y1="404.5" x2="103.4" y2="404.5" stroke="#9a7a3a" stroke-width="0.5" />
<line x1="94.6" y1="410.5" x2="103.4" y2="410.5" stroke="#9a7a3a" stroke-width="0.5" />
<line x1="94.6" y1="416.5" x2="103.4" y2="416.5" stroke="#9a7a3a" stroke-width="0.5" />
<line x1="94.6" y1="422.5" x2="103.4" y2="422.5" stroke="#9a7a3a" stroke-width="0.5" />
<line x1="94.6" y1="428.5" x2="103.4" y2="428.5" stroke="#9a7a3a" stroke-width="0.5" />
<line x1="94.6" y1="434.5" x2="103.4" y2="434.5" stroke="#9a7a3a" stroke-width="0.5" />
<line x1="94.6" y1="440.5" x2="103.4" y2="440.5" stroke="#9a7a3a" stroke-width="0.5" />
<line x1="94.6" y1="446.5" x2="103.4" y2="446.5" stroke="#9a7a3a" stroke-width="0.5" />
<line x1="94.6" y1="452.5" x2="103.4" y2="452.5" stroke="#9a7a3a" stroke-width="0.5" />
<line x1="94.6" y1="458.5" x2="103.4" y2="458.5" stroke="#9a7a3a" stroke-width="0.5" />
<line x1="94.6" y1="464.5" x2="103.4" y2="464.5" stroke="#9a7a3a" stroke-width="0.5" />
<line x1="94.6" y1="470.5" x2="103.4" y2="470.5" stroke="#9a7a3a" stroke-width="0.5" />
<line x1="94.5" y1="287.5" x2="94.5" y2="472" stroke="#453a22" stroke-width="0.9" />
<line x1="103.5" y1="287.5" x2="103.5" y2="472" stroke="#453a22" stroke-width="0.9" />
<line x1="94.4" y1="287.5" x2="104" y2="287.5" stroke="#453a22" stroke-width="1.5" />
<rect x="92.3" y="472" width="13.3" height="100.6" fill="#ebb54c" />
<polyline points="105.0,474.0 93.0,484.9 105.0,495.8 93.0,506.7 105.0,517.6" fill="none" stroke="#33475a" stroke-width="1.2" />
<polyline points="105.0,528.5 93.0,535.2 105.0,542.0 93.0,548.8 105.0,555.5 93.0,562.2 105.0,569.0" fill="none" stroke="#33475a" stroke-width="1.1" />
<line x1="92.5" y1="472" x2="92.5" y2="572.6" stroke="#453a22" stroke-width="0.9" />
<line x1="105.5" y1="472" x2="105.5" y2="572.6" stroke="#453a22" stroke-width="0.9" />
<line x1="92.3" y1="472.5" x2="105.6" y2="472.5" stroke="#453a22" stroke-width="0.9" />
<line x1="106.5" y1="311.4" x2="106.5" y2="471.5" stroke="#22394f" stroke-width="1.15" />
<line x1="104.5" y1="311.4" x2="104.5" y2="380" stroke="#22394f" stroke-width="0.9" />
<line x1="103.8" y1="311.5" x2="107" y2="311.5" stroke="#22394f" stroke-width="0.9" />
<line x1="103.5" y1="471.5" x2="107" y2="471.5" stroke="#22394f" stroke-width="0.9" />
<path d="M105,379.5 H111.5 L114.6,392 L113,397.5 H105" fill="none" stroke="#2f4560" stroke-width="1.1" stroke-dasharray="2.4 1.5"/>
<line x1="72.3" y1="250" x2="102.8" y2="285.8" stroke="#1f3a63" stroke-width="2.9" />
<circle cx="72" cy="248.6" r="2.2" fill="#ffffff" stroke="#153465" stroke-width="2.2"/>
<line x1="85" y1="283.6" x2="95.4" y2="289.8" stroke="#5a5030" stroke-width="2.3" />
<line x1="85.4" y1="283.8" x2="95.4" y2="289.8" stroke="#d8b060" stroke-width="0.9" />
<circle cx="83.9" cy="282.7" r="1.7" fill="#ffffff" stroke="#26457a" stroke-width="1.2"/>
<polygon points="103.3,290.7 111.5,290.7 115.6,304.2 113.7,308.8 103.3,308.8" fill="#ffffff" stroke="#1f3a63" stroke-width="1.1" />
<rect x="103" y="290.2" width="4.0" height="19.0" fill="#1c3763" />
<line x1="103" y1="290.5" x2="111.5" y2="290.5" stroke="#1c3763" stroke-width="1.5" />
<rect x="103" y="307.4" width="10.4" height="2.1" fill="#1c3763" />
<rect x="113.4" y="288.4" width="9.2" height="2.2" fill="#3f4b5c" />
<rect x="114.2" y="290.6" width="7.6" height="5.6" fill="#76839a" />
<rect x="115.6" y="291.8" width="4.8" height="2.2" fill="#c4cedc" />
<rect x="114.8" y="294.8" width="6.4" height="1.4" fill="#435066" />
<line x1="117.5" y1="296" x2="117.5" y2="302.8" stroke="#27405e" stroke-width="1.5" />
<line x1="117.5" y1="305" x2="117.5" y2="337.4" stroke="#21435c" stroke-width="1.1" />
<line x1="44.7" y1="246.5" x2="72" y2="246.5" stroke="#21435c" stroke-width="1.15" />
<line x1="47.5" y1="248" x2="47.5" y2="362.7" stroke="#21435c" stroke-width="1.15" />
<line x1="47.5" y1="394" x2="47.5" y2="585" stroke="#21435c" stroke-width="1.15" />
<polygon points="47.6,246.9 45.9,251.9 49.4,251.9" fill="#21435c" stroke="none" stroke-width="1" />
<polygon points="47.6,586.4 45.9,581.4 49.4,581.4" fill="#21435c" stroke="none" stroke-width="1" />
<line x1="68.5" y1="246.7" x2="68.5" y2="274.8" stroke="#21435c" stroke-width="1.15" />
<text x="31.6" y="372.5" font-size="11.6" fill="#34486a" textLength="27" lengthAdjust="spacingAndGlyphs"><tspan font-weight="bold">Ht</tspan> (m)</text>
<rect x="23.4" y="380.3" width="11.1" height="11.9" fill="#14437f" />
<text transform="translate(28.95,390.35) scale(0.85,1)" text-anchor="middle" font-size="11.5" font-weight="bold" fill="#e4f1ff" >3</text>
<text x="39" y="391.2" font-size="10.8" font-weight="normal" fill="#34486a" stroke="#34486a" stroke-width="0.3" textLength="18.0" lengthAdjust="spacingAndGlyphs" >36,6</text>
<line x1="60" y1="271.5" x2="122.8" y2="271.5" stroke="#21435c" stroke-width="1.15" />
<polygon points="67.8,271.4 62.8,269.6 62.8,273.1" fill="#21435c" stroke="none" stroke-width="1" />
<text x="93.8" y="270.1" font-size="11" font-weight="normal" fill="#34486a" stroke="#34486a" stroke-width="0.3" textLength="28.9" lengthAdjust="spacingAndGlyphs" >2,35 m</text>
<line x1="85.5" y1="255.7" x2="85.5" y2="590" stroke="#27405e" stroke-width="0.9" stroke-dasharray="9 2 2 2"/>
<line x1="86.1" y1="334.5" x2="135.4" y2="334.5" stroke="#21435c" stroke-width="1.15" />
<polygon points="86.3,334.4 91.3,332.6 91.3,336.1" fill="#21435c" stroke="none" stroke-width="1" />
<polygon points="117.4,334.4 112.4,332.6 112.4,336.1" fill="#21435c" stroke="none" stroke-width="1" />
<text x="120.3" y="332" font-size="11.2" font-weight="normal" fill="#34486a" stroke="#34486a" stroke-width="0.3" textLength="15.4" lengthAdjust="spacingAndGlyphs" >3 m</text>
<line x1="55.5" y1="521.5" x2="90.5" y2="521.5" stroke="#21435c" stroke-width="1.15" />
<polygon points="63.8,521.0 60.3,519.2 60.3,522.8" fill="#21435c" stroke="none" stroke-width="1" />
<polygon points="86.0,521.0 89.5,519.2 89.5,522.8" fill="#21435c" stroke="none" stroke-width="1" />
<rect x="66.5" y="509.5" width="16.5" height="10.1" fill="#ffffff" />
<text x="67.2" y="518.1" font-size="11.2" font-weight="normal" fill="#34486a" stroke="#34486a" stroke-width="0.3" textLength="15.2" lengthAdjust="spacingAndGlyphs" >3 m</text>
<rect x="60" y="523.2" width="27.4" height="11.0" fill="#ffffff" />
<text x="63.2" y="531.7" font-size="11.2" font-weight="normal" fill="#34486a" stroke="#34486a" stroke-width="0.3" textLength="23.6" lengthAdjust="spacingAndGlyphs" >2,8 m</text>
<line x1="65.3" y1="536.5" x2="86.1" y2="536.5" stroke="#21435c" stroke-width="1.15" />
<polygon points="65.5,536.9 69.0,535.1 69.0,538.6" fill="#21435c" stroke="none" stroke-width="1" />
<polygon points="85.6,536.9 82.1,535.1 82.1,538.6" fill="#21435c" stroke="none" stroke-width="1" />
<line x1="62.1" y1="545.5" x2="75.8" y2="545.5" stroke="#9aa3ad" stroke-width="1.3" />
<line x1="62.1" y1="548.5" x2="75.8" y2="548.5" stroke="#9aa3ad" stroke-width="1.3" />
<line x1="62.1" y1="550.5" x2="75.8" y2="550.5" stroke="#9aa3ad" stroke-width="1.3" />
<line x1="62.1" y1="552.5" x2="75.8" y2="552.5" stroke="#9aa3ad" stroke-width="1.3" />
<line x1="62.1" y1="555.5" x2="75.8" y2="555.5" stroke="#9aa3ad" stroke-width="1.3" />
<line x1="62.1" y1="557.5" x2="75.8" y2="557.5" stroke="#9aa3ad" stroke-width="1.3" />
<line x1="62.1" y1="560.5" x2="75.8" y2="560.5" stroke="#9aa3ad" stroke-width="1.3" />
<line x1="62.1" y1="562.5" x2="75.8" y2="562.5" stroke="#9aa3ad" stroke-width="1.3" />
<line x1="62.1" y1="565.5" x2="75.8" y2="565.5" stroke="#9aa3ad" stroke-width="1.3" />
<line x1="62.1" y1="567.5" x2="75.8" y2="567.5" stroke="#9aa3ad" stroke-width="1.3" />
<line x1="62.1" y1="570.5" x2="75.8" y2="570.5" stroke="#9aa3ad" stroke-width="1.3" />
<line x1="104.9" y1="533.8" x2="78.1" y2="571.6" stroke="#1b3b6e" stroke-width="2.9" />
<line x1="104.9" y1="533.8" x2="93.4" y2="572.2" stroke="#1b3b6e" stroke-width="2.6" />
<line x1="86.8" y1="558.3" x2="96.8" y2="554" stroke="#1b3b6e" stroke-width="1.2" />
<path d="M64.4,571 Q80,569.4 96,570.8 L95.4,575 Q94,577.4 90,577.4 L70,577.4 Q66,577 64.4,571 Z" fill="#e2ab48" stroke="#9a7430" stroke-width="0.6"/>
<rect x="76.1" y="577.4" width="18.1" height="5.6" fill="#e2ab48" stroke="#9a7430" stroke-width="0.6"/>
<line x1="85.5" y1="577.4" x2="85.5" y2="583" stroke="#9a7430" stroke-width="0.6" />
<path d="M64,581.6 Q70,578.6 76,579.6 M94.2,579.6 Q101,578.6 107,581.6" fill="none" stroke="#1f3f6e" stroke-width="1.6"/>
<rect x="62.6" y="581.4" width="4.6" height="4.2" fill="#c9c3a2" stroke="#3c4a5a" stroke-width="0.9"/>
<rect x="102.2" y="581.4" width="5.8" height="4.2" fill="#c9c3a2" stroke="#3c4a5a" stroke-width="0.9"/>
<line x1="45.7" y1="586.5" x2="135" y2="586.5" stroke="#8a9098" stroke-width="1.5" />
<line x1="64.5" y1="586.7" x2="64.5" y2="602" stroke="#6f7b88" stroke-width="0.9" />
<line x1="104.5" y1="586.7" x2="104.5" y2="602" stroke="#6f7b88" stroke-width="0.9" />
<line x1="59.9" y1="600.5" x2="158.2" y2="600.5" stroke="#21435c" stroke-width="1.15" />
<polygon points="64.4,600.7 60.9,599.0 60.9,602.5" fill="#21435c" stroke="none" stroke-width="1" />
<polygon points="105.1,600.7 108.6,599.0 108.6,602.5" fill="#21435c" stroke="none" stroke-width="1" />
<text x="111" y="598.4" font-size="11" font-weight="normal" fill="#34486a" stroke="#34486a" stroke-width="0.3" textLength="47.2" lengthAdjust="spacingAndGlyphs" >4,5 x 4,5 m</text>
<text x="18" y="605.5" font-size="4.6" font-weight="normal" fill="#6f7b88" stroke="#6f7b88" stroke-width="0.3" textLength="16.4" lengthAdjust="spacingAndGlyphs" >LMS 2</text>
<rect x="15.5" y="656" width="406" height="12" fill="url(#bg)"/>
<rect x="19.6" y="668" width="401.9" height="2.0" fill="#6d8096" />
<rect x="19.6" y="667.8" width="401.9" height="1.2" fill="#33474f" />
<rect x="508.5" y="667.8" width="86.8" height="2.2" fill="#a9b1bf" />
<rect x="508.5" y="667.8" width="86.8" height="1.0" fill="#8c97a8" />
<defs><radialGradient id="ray" gradientUnits="userSpaceOnUse" cx="463.8" cy="678" r="41"><stop offset="0.55" stop-color="#f9ea9e"/><stop offset="1" stop-color="#dbb548"/></radialGradient></defs>
<polygon points="434.3,672.2 424.6,669.9 425.6,667.4 435.0,670.6" fill="url(#ray)" stroke="none" stroke-width="1" />
<polygon points="435.6,669.3 426.4,665.8 427.7,663.5 436.6,667.9" fill="url(#ray)" stroke="none" stroke-width="1" />
<polygon points="437.5,666.6 428.8,662.0 430.5,659.8 438.6,665.3" fill="url(#ray)" stroke="none" stroke-width="1" />
<polygon points="439.8,664.2 431.8,658.4 433.9,656.4 441.2,662.9" fill="url(#ray)" stroke="none" stroke-width="1" />
<polygon points="442.5,661.9 435.4,655.2 437.8,653.5 444.1,660.8" fill="url(#ray)" stroke="none" stroke-width="1" />
<polygon points="445.6,659.9 439.5,652.4 442.2,650.9 447.4,659.0" fill="url(#ray)" stroke="none" stroke-width="1" />
<polygon points="449.0,658.3 444.0,650.1 446.9,648.9 451.0,657.6" fill="url(#ray)" stroke="none" stroke-width="1" />
<polygon points="452.7,657.0 448.9,648.2 452.0,647.4 454.8,656.5" fill="url(#ray)" stroke="none" stroke-width="1" />
<polygon points="456.6,656.1 454.1,646.9 457.3,646.4 458.8,655.8" fill="url(#ray)" stroke="none" stroke-width="1" />
<polygon points="460.7,655.6 459.5,646.2 462.7,646.0 462.9,655.5" fill="url(#ray)" stroke="none" stroke-width="1" />
<polygon points="464.7,655.5 464.9,646.0 468.1,646.2 466.9,655.6" fill="url(#ray)" stroke="none" stroke-width="1" />
<polygon points="468.8,655.8 470.3,646.4 473.5,646.9 471.0,656.1" fill="url(#ray)" stroke="none" stroke-width="1" />
<polygon points="472.8,656.5 475.6,647.4 478.7,648.2 474.9,657.0" fill="url(#ray)" stroke="none" stroke-width="1" />
<polygon points="476.6,657.6 480.7,648.9 483.6,650.1 478.6,658.3" fill="url(#ray)" stroke="none" stroke-width="1" />
<polygon points="480.2,659.0 485.4,650.9 488.1,652.4 482.0,659.9" fill="url(#ray)" stroke="none" stroke-width="1" />
<polygon points="483.5,660.8 489.8,653.5 492.2,655.2 485.1,661.9" fill="url(#ray)" stroke="none" stroke-width="1" />
<polygon points="486.4,662.9 493.7,656.4 495.8,658.4 487.8,664.2" fill="url(#ray)" stroke="none" stroke-width="1" />
<polygon points="489.0,665.3 497.1,659.8 498.8,662.0 490.1,666.6" fill="url(#ray)" stroke="none" stroke-width="1" />
<polygon points="491.0,667.9 499.9,663.5 501.2,665.8 492.0,669.3" fill="url(#ray)" stroke="none" stroke-width="1" />
<polygon points="492.6,670.6 502.0,667.4 503.0,669.9 493.3,672.2" fill="url(#ray)" stroke="none" stroke-width="1" />
<circle cx="464.6" cy="683.6" r="24.2" fill="#f4f8fb" stroke="#2d5578" stroke-width="1.7"/>
<ellipse cx="464.6" cy="683.6" rx="11.5" ry="24.2" fill="none" stroke="#2d5578" stroke-width="1.3"/>
<line x1="464.5" y1="660" x2="464.5" y2="670" stroke="#2d5578" stroke-width="1.3" />
<path d="M447.5,667.6 Q464.6,663.4 481.8,667.6" fill="none" stroke="#2d5578" stroke-width="1.3"/>
</g></svg>
</body></html>
